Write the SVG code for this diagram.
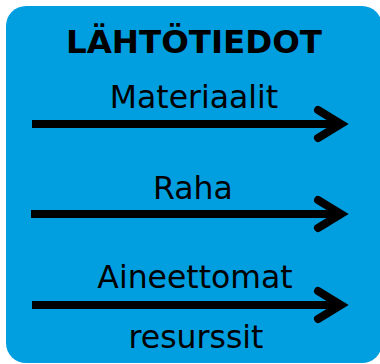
<svg xmlns="http://www.w3.org/2000/svg" width="380" height="364" viewBox="0 0 380 364">
<style>
.t{font-family:"DejaVu Sans","Liberation Sans",sans-serif;fill:#000;text-anchor:middle}
.title{font-weight:bold;font-size:32.5px}
.lbl{font-size:31.5px}
.ln{stroke:#000;stroke-width:8;fill:none;stroke-linecap:butt}
</style>
<defs>
<marker id="chev" markerUnits="userSpaceOnUse" markerWidth="60" markerHeight="60" refX="0" refY="0" viewBox="-40 -30 60 60" orient="auto" overflow="visible">
<path d="M-23,-14 L0,0 L-23,14" fill="none" stroke="#000" stroke-width="8" stroke-linecap="round" stroke-linejoin="miter" stroke-miterlimit="10"/>
</marker>
</defs>
<g id="box">
<rect x="6" y="6" width="376" height="357" rx="20" fill="#019EE0"/>
<text class="t title" x="194" y="53">LÄHTÖTIEDOT</text>
</g>
<g id="connectors">
<line class="ln" x1="32" y1="124" x2="341" y2="124" marker-end="url(#chev)"/>
<line class="ln" x1="31" y1="214" x2="341" y2="214" marker-end="url(#chev)"/>
<line class="ln" x1="32" y1="305" x2="341" y2="305" marker-end="url(#chev)"/>
</g>
<g id="labels">
<text class="t lbl" x="194" y="108">Materiaalit</text>
<text class="t lbl" x="193" y="199">Raha</text>
<text class="t lbl" x="195" y="288">Aineettomat</text>
<text class="t lbl" x="196" y="348">resurssit</text>
</g>
</svg>
